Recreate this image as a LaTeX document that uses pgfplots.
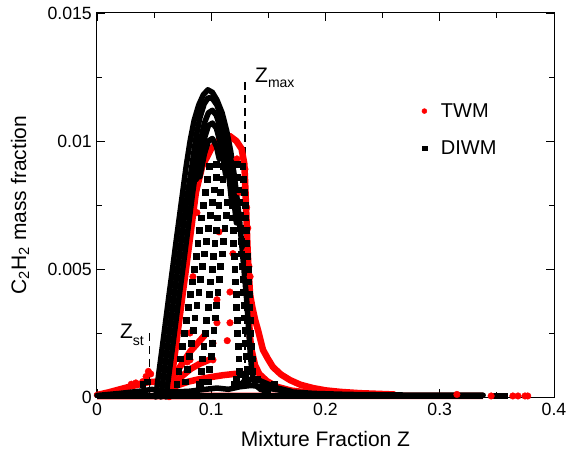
\documentclass[border=0pt]{standalone}
\usepackage{fontspec}
\setmainfont{Liberation Sans}
\usepackage{pgfplots}
\pgfplotsset{compat=1.18}
\pgfplotsset{
 redband/.style={red, line width=6.5bp, line cap=round, line join=round, forget plot},
 blkband/.style={black, line width=5.5bp, line cap=round, line join=round, forget plot},
 reddots/.style={only marks, mark=*, red, mark size=3.3bp, forget plot},
 blksq/.style={only marks, mark=square*, black, mark size=2.9bp, forget plot},
}
\begin{document}
\begin{tikzpicture}
\useasboundingbox (-97bp,-60bp) rectangle (471bp,397bp);
\begin{axis}[
  scale only axis, width=457bp, height=384bp,
  xmin=0, xmax=0.4, ymin=0, ymax=0.015,
  xtick={0,0.1,0.2,0.3,0.4}, xticklabels={0,0.1,0.2,0.3,0.4},
  ytick={0,0.005,0.01,0.015}, yticklabels={0,0.005,0.01,0.015},
  scaled x ticks=false, scaled y ticks=false,
  minor x tick num=1, minor y tick num=1,
  tick align=inside,
  major tick length=8bp, minor tick length=5bp,
  tick style={black, line width=0.9bp},
  axis line style={line width=1bp},
  clip=false,
  ticklabel style={font=\fontsize{17.7bp}{20bp}\selectfont},
  xticklabel style={inner sep=0pt, yshift=-6bp},
  yticklabel style={inner sep=0pt, xshift=-5bp},
  xlabel={Mixture Fraction Z},
  ylabel={C\textsubscript{2}H\textsubscript{2} mass fraction},
  label style={font=\fontsize{21bp}{24bp}\selectfont},
  xlabel style={at={(axis description cs:0.5,0)}, anchor=base, yshift=-49bp},
  ylabel style={at={(axis description cs:-0.1685,0.5)}, anchor=center},
  legend style={draw=none, fill=none, at={(axis cs:0.2816,0.01163)}, anchor=north west,
    font=\fontsize{20bp}{24bp}\selectfont, row sep=18bp,
    /tikz/every odd column/.append style={column sep=12bp}},
  legend cell align=left,
]
\addlegendimage{only marks, mark=*, red, mark size=2.5bp}
\addlegendentry{TWM}
\addlegendimage{only marks, mark=square*, black, mark size=2.3bp}
\addlegendentry{DIWM}

% dashed reference lines
\addplot[forget plot, black, line width=1.2bp, dash pattern=on 8bp off 5bp] coordinates {(0.0458,0.0025) (0.0458,0)};
\addplot[forget plot, black, line width=1.2bp, dash pattern=on 8bp off 5bp] coordinates {(0.1295,0.0123) (0.1295,0)};

% ---------------- TWM (red) ----------------
\addplot[redband] coordinates {(0.000,0.00008) (0.010,0.00018) (0.020,0.00030) (0.030,0.00042) (0.038,0.00050) (0.045,0.00058) (0.052,0.00060)};
\addplot[redband, line cap=butt] coordinates {(0.000,0.00003) (0.100,0.00004) (0.200,0.00004) (0.300,0.00004) (0.338,0.00004)};
\addplot[redband] coordinates {(0.0632,0.0000) (0.0661,0.0010) (0.0691,0.0020) (0.0720,0.0030) (0.0749,0.0040) (0.0779,0.0050) (0.0808,0.0060) (0.0837,0.0070) (0.0866,0.0080) (0.0920,0.0090) (0.1000,0.0097) (0.1080,0.0101) (0.1160,0.0102) (0.1220,0.0100) (0.1265,0.0097) (0.1290,0.0091) (0.1300,0.0080) (0.1308,0.0070) (0.1316,0.0060) (0.1326,0.0050) (0.1340,0.0040) (0.1360,0.0035) (0.1385,0.0030) (0.1410,0.0026) (0.1453,0.00184) (0.1495,0.0015) (0.1540,0.00117) (0.1610,0.00088) (0.1690,0.00066) (0.1780,0.00048) (0.1890,0.00035) (0.2000,0.00026) (0.2130,0.00020) (0.2300,0.00015) (0.2600,0.00010)};
\addplot[redband] coordinates {(0.1320,0.0040) (0.1330,0.0031) (0.1339,0.00234) (0.1355,0.0018) (0.1383,0.00125) (0.1420,0.0009) (0.1488,0.00062) (0.1575,0.00040) (0.1700,0.00025) (0.1900,0.00015)};
\addplot[redband] coordinates {(0.062,0.0002) (0.070,0.00045) (0.080,0.0006) (0.090,0.0007) (0.100,0.00078) (0.110,0.00085) (0.120,0.0009) (0.128,0.0009)};
\addplot[redband] coordinates {(0.064,0.0006) (0.070,0.0010) (0.076,0.0014) (0.082,0.0018) (0.088,0.0021) (0.094,0.0024)};
\addplot[redband] coordinates {(0.066,0.0004) (0.074,0.0008) (0.082,0.0011) (0.090,0.0013) (0.098,0.00145)};
\addplot[reddots] coordinates {(0.1068,0.00645) (0.0840,0.0047) (0.0875,0.0072) (0.1250,0.0080) (0.1310,0.0057) (0.1340,0.0047) (0.1225,0.0093) (0.1295,0.0089) (0.1280,0.0081) (0.1310,0.0074) (0.1320,0.0066) (0.1190,0.0056) (0.1330,0.0051) (0.0814,0.0025) (0.1015,0.0021) (0.1140,0.0022) (0.1164,0.0041) (0.1050,0.0038) (0.0790,0.00137) (0.1164,0.0029) (0.1050,0.0029) (0.0928,0.00137) (0.1015,0.00145) (0.0814,0.00145) (0.0400,0.0006) (0.0430,0.0008) (0.0450,0.0010) (0.0470,0.0009) (0.0340,0.00055) (0.0300,0.0005) (0.3150,0.0001) (0.3450,0.00004) (0.3640,0.00004) (0.3685,0.00004) (0.3746,0.00004) (0.3770,0.00004)};

% ---------------- DIWM (black) ----------------
\addplot[blkband, line cap=butt] coordinates {(0.000,0.00003) (0.338,0.00003)};
\addplot[blkband, line cap=butt] coordinates {(0.345,0.00003) (0.360,0.00003)};
\addplot[blkband] coordinates {(0.000,0.00006) (0.010,0.00010) (0.020,0.00014) (0.030,0.00019) (0.040,0.00024) (0.048,0.00030) (0.055,0.00025) (0.065,0.00020) (0.080,0.00022) (0.095,0.00030) (0.105,0.00035) (0.115,0.00030) (0.125,0.00040) (0.135,0.00045) (0.145,0.00040) (0.155,0.00030) (0.170,0.00020) (0.190,0.00014) (0.220,0.00010) (0.260,0.00008) (0.300,0.00007) (0.338,0.00007)};
\addplot[blkband] coordinates {(0.128,0.0006) (0.135,0.0007) (0.142,0.00065) (0.150,0.0005) (0.158,0.00035) (0.170,0.00022)};
\addplot[blkband] coordinates {(0.0514,0.0000) (0.0543,0.0010) (0.0573,0.0020) (0.0602,0.0030) (0.0631,0.0040) (0.0661,0.0050) (0.0690,0.0060) (0.0720,0.0070) (0.0750,0.0080) (0.0780,0.0090) (0.0815,0.0100) (0.0850,0.0108) (0.0890,0.0114) (0.0930,0.0118) (0.0970,0.0120) (0.1010,0.0119) (0.1050,0.0116) (0.1095,0.0111) (0.1135,0.0104) (0.1170,0.0096) (0.1200,0.0087) (0.1225,0.0078) (0.1250,0.0068) (0.1270,0.0058) (0.1290,0.0048) (0.1310,0.0038) (0.1325,0.0028) (0.1340,0.0018) (0.1355,0.0010) (0.1380,0.0005) (0.1430,0.0003) (0.1500,0.0002)};
\addplot[blkband] coordinates {(0.0559,0.0000) (0.0588,0.0010) (0.0618,0.0020) (0.0647,0.0030) (0.0676,0.0040) (0.0706,0.0050) (0.0735,0.0060) (0.0764,0.0070) (0.0795,0.0080) (0.0830,0.0090) (0.0865,0.0101) (0.0900,0.0109) (0.0938,0.01145) (0.0975,0.0117) (0.1012,0.01165) (0.1050,0.0114) (0.1090,0.0109) (0.1122,0.0102) (0.1150,0.0094) (0.1175,0.0086) (0.1198,0.0077) (0.1220,0.0068)};
\addplot[blkband] coordinates {(0.0604,0.0000) (0.0633,0.0010) (0.0663,0.0020) (0.0692,0.0030) (0.0721,0.0040) (0.0751,0.0050) (0.0780,0.0060) (0.0809,0.0070) (0.0838,0.0080) (0.0870,0.0090) (0.0905,0.0100) (0.0940,0.0107) (0.0975,0.0111) (0.1010,0.0112) (0.1045,0.0110) (0.1080,0.0105) (0.1110,0.0099) (0.1135,0.0092) (0.1160,0.0084) (0.1182,0.0075)};
\addplot[blkband] coordinates {(0.0870,0.0085) (0.0905,0.0094) (0.0940,0.0101) (0.0975,0.0106) (0.1010,0.0107) (0.1045,0.0105) (0.1075,0.0100) (0.1100,0.0094) (0.1125,0.0087)};
\addplot[blkband] coordinates {(0.0900,0.0086) (0.0940,0.0095) (0.0975,0.0100) (0.1010,0.0101) (0.1045,0.0098) (0.1070,0.0093)};
\addplot[blksq] coordinates {
(0.0698,0.0005) (0.0773,0.0006) (0.0898,0.0005) (0.0973,0.0006) (0.1250,0.0005) (0.1315,0.0006)
(0.0715,0.0010) (0.0790,0.0011) (0.0910,0.0010) (0.0985,0.0011) (0.1245,0.0010) (0.1310,0.0011) (0.1360,0.0010)
(0.0731,0.0015) (0.0806,0.0016) (0.0922,0.0015) (0.0997,0.0016) (0.1240,0.0015) (0.1305,0.0016) (0.1355,0.0015)
(0.0748,0.0020) (0.0823,0.0021) (0.0934,0.0020) (0.1009,0.0021) (0.1235,0.0020) (0.1300,0.0021) (0.1350,0.0020)
(0.0765,0.0025) (0.0840,0.0026) (0.0946,0.0025) (0.1021,0.0026) (0.1230,0.0025) (0.1295,0.0026) (0.1345,0.0025)
(0.0781,0.0030) (0.0856,0.0031) (0.0958,0.0030) (0.1033,0.0031) (0.1225,0.0030) (0.1290,0.0031) (0.1340,0.0030)
(0.0798,0.0035) (0.0873,0.0036) (0.0970,0.0035) (0.1045,0.0036) (0.1220,0.0035) (0.1285,0.0036) (0.1335,0.0035)
(0.0815,0.0040) (0.0890,0.0041) (0.0982,0.0040) (0.1057,0.0041) (0.1215,0.0040) (0.1280,0.0041) (0.1330,0.0040)
(0.0831,0.0045) (0.0906,0.0046) (0.0994,0.0045) (0.1069,0.0046) (0.1210,0.0045) (0.1275,0.0046) (0.1325,0.0045)
(0.0848,0.0050) (0.0923,0.0051) (0.1006,0.0050) (0.1081,0.0051) (0.1205,0.0050) (0.1270,0.0051) (0.1320,0.0050)
(0.0865,0.0055) (0.0940,0.0056) (0.1018,0.0055) (0.1093,0.0056) (0.1200,0.0055) (0.1265,0.0056) (0.1315,0.0055)
(0.0881,0.0060) (0.0956,0.0061) (0.1030,0.0060) (0.1105,0.0061) (0.1195,0.0060) (0.1260,0.0061) (0.1310,0.0060)
(0.0898,0.0065) (0.0973,0.0066) (0.1042,0.0065) (0.1117,0.0066) (0.1190,0.0065) (0.1255,0.0066) (0.1305,0.0065)
(0.0915,0.0070) (0.0990,0.0071) (0.1054,0.0070) (0.1129,0.0071) (0.1185,0.0070) (0.1250,0.0071) (0.1300,0.0070)
(0.0931,0.0075) (0.1006,0.0076) (0.1066,0.0075) (0.1141,0.0076) (0.1180,0.0075) (0.1245,0.0076) (0.1295,0.0075)
(0.0948,0.0080) (0.1023,0.0081) (0.1078,0.0080) (0.1175,0.0080) (0.1240,0.0081) (0.1290,0.0080)
(0.0965,0.0085) (0.1040,0.0086) (0.1100,0.0085) (0.1230,0.0086) (0.1280,0.0085)
(0.0981,0.0090) (0.1045,0.0091) (0.1102,0.0090) (0.1225,0.0091) (0.1275,0.0090)
(0.0400,0.0005) (0.0440,0.0006) (0.0900,0.0004) (0.0920,0.0006) (0.1200,0.0005) (0.1220,0.0007) (0.1250,0.0009) (0.1300,0.0008) (0.1400,0.0007) (0.1450,0.0005) (0.1550,0.0005)
};

\node[anchor=base west, inner sep=0pt, font=\fontsize{21bp}{21bp}\selectfont] at (axis cs:0.0201,0.0023) {Z\raisebox{-7bp}{\fontsize{14bp}{14bp}\selectfont st}};
\node[anchor=base west, inner sep=0pt, font=\fontsize{21bp}{21bp}\selectfont] at (axis cs:0.1383,0.01227) {Z\raisebox{-5bp}{\fontsize{14bp}{14bp}\selectfont max}};
\end{axis}
\end{tikzpicture}
\end{document}
